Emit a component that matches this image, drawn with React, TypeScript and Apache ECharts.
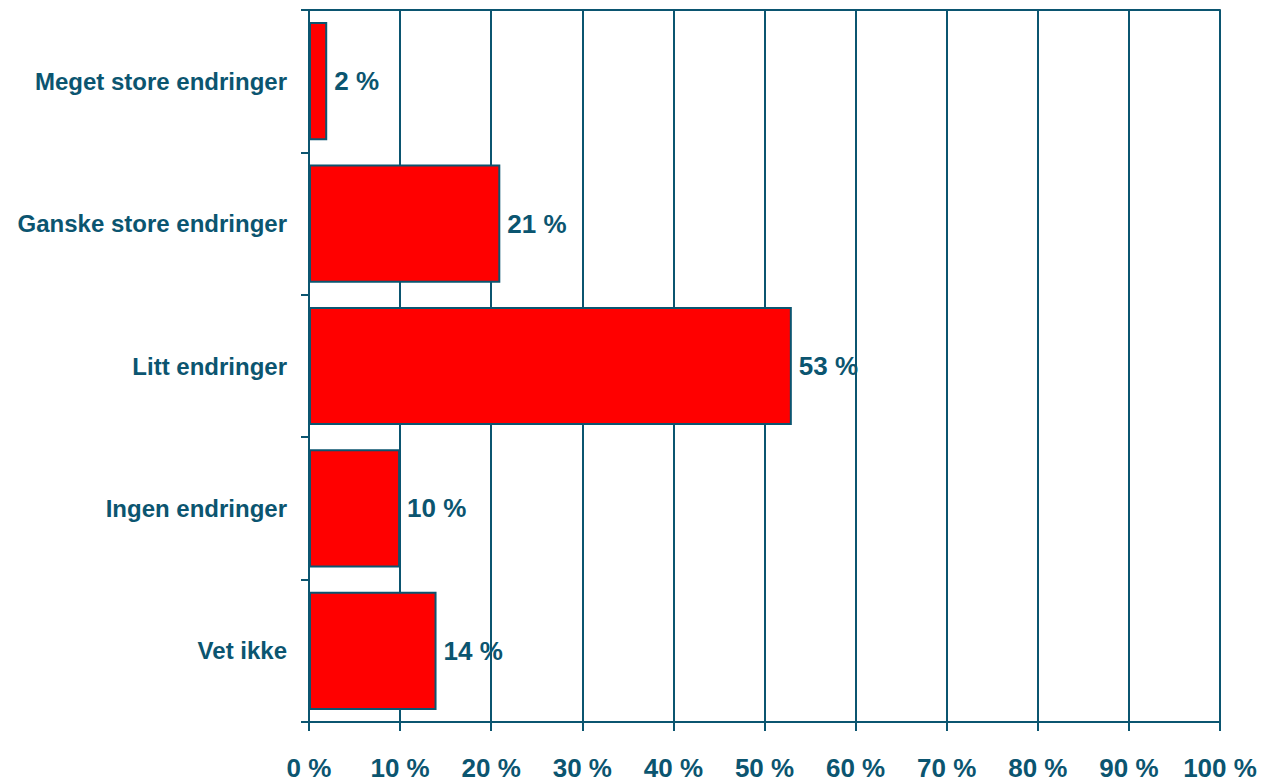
import React, { useEffect, useRef } from "react";
import * as echarts from "echarts";

const categories = [
  "Meget store endringer",
  "Ganske store endringer",
  "Litt endringer",
  "Ingen endringer",
  "Vet ikke",
];
const values = [2, 21, 53, 10, 14];

const TEAL = "#0B5570";
const FONT = "'Liberation Sans', Arial, sans-serif";

export default function App() {
  const ref = useRef<HTMLDivElement>(null);
  useEffect(() => {
    if (!ref.current) return;
    const chart = echarts.init(ref.current, undefined, { renderer: "svg" });
    chart.setOption({
      animation: false,
      grid: { left: 309, right: 42, top: 10, bottom: 60 },
      xAxis: [
        {
          type: "value",
          min: 0,
          max: 100,
          interval: 10,
          axisLine: { show: true, lineStyle: { color: TEAL, width: 2 } },
          axisTick: { show: true, length: 9, lineStyle: { color: TEAL, width: 2 } },
          splitLine: { show: true, lineStyle: { color: TEAL, width: 2 } },
          axisLabel: {
            color: TEAL,
            fontFamily: FONT,
            fontWeight: "bold",
            fontSize: 26,
            margin: 33,
            formatter: (v: number) => v + " %",
          },
        },
        {
          type: "value",
          position: "top",
          min: 0,
          max: 100,
          axisLine: { show: true, lineStyle: { color: TEAL, width: 2 } },
          axisTick: { show: false },
          axisLabel: { show: false },
          splitLine: { show: false },
        },
      ],
      yAxis: {
        type: "category",
        data: categories,
        inverse: true,
        axisLine: { show: true, lineStyle: { color: TEAL, width: 2 } },
        axisTick: { show: true, length: 8, lineStyle: { color: TEAL, width: 2 } },
        axisLabel: {
          color: TEAL,
          fontFamily: FONT,
          fontWeight: "bold",
          fontSize: 24,
          margin: 22,
        },
      },
      series: [
        {
          type: "bar",
          data: values,
          barCategoryGap: "17%",
          itemStyle: { color: "#FF0000", borderColor: TEAL, borderWidth: 2 },
          label: {
            show: true,
            position: "right",
            distance: 7,
            color: TEAL,
            fontFamily: FONT,
            fontWeight: "bold",
            fontSize: 26,
            formatter: (p: any) => p.value + " %",
          },
        },
      ],
    });
    return () => chart.dispose();
  }, []);
  return <div ref={ref} style={{ width: 1262, height: 782, position: "absolute", left: 0, top: 0 }} />;
}
